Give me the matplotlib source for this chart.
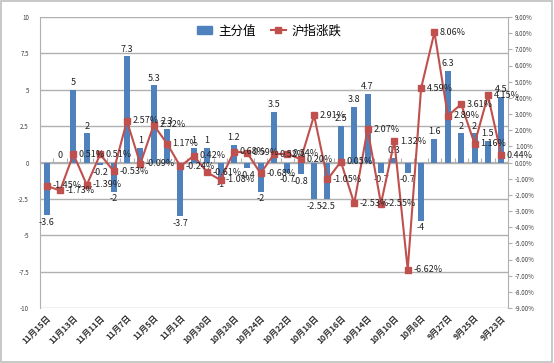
import numpy as np
import matplotlib
matplotlib.use("Agg")
import matplotlib.pyplot as plt
from matplotlib.lines import Line2D
from matplotlib.patches import Patch, Rectangle

plt.rcParams['font.family'] = ['Noto Sans CJK SC', 'DejaVu Sans']

# -----------------------------
# Data (newest first, as in the chart)
# -----------------------------
dates = ['11月15日', '11月14日', '11月13日', '11月12日', '11月11日', '11月8日',
         '11月7日', '11月6日', '11月5日', '11月4日', '11月1日', '10月31日',
         '10月30日', '10月29日', '10月28日', '10月25日', '10月24日', '10月23日',
         '10月22日', '10月21日', '10月18日', '10月17日', '10月16日', '10月15日',
         '10月14日', '10月11日', '10月10日', '10月9日', '10月8日', '9月30日',
         '9月27日', '9月26日', '9月25日', '9月24日', '9月23日']

score = [-3.6, 0, 5, 2, -0.2, -2, 7.3, 1, 5.3, 2.3, -3.7, 1,
         1, -1, 1.2, -0.4, -2, 3.5, -0.7, -0.8, -2.5, -2.5, 2.5, 3.8,
         4.7, -0.7, 0.3, -0.7, -4, 1.6, 6.3, 2, 2, 1.5, 4.5]

index_chg = [-1.45, -1.73, 0.51, -1.39, 0.51, -0.53, 2.57, -0.09, 2.32, 1.17, -0.24, 0.42,
             -0.61, -1.08, 0.68, 0.59, -0.68, 0.52, 0.54, 0.20, 2.91, -1.05, 0.05, -2.53,
             2.07, -2.55, 1.32, -6.62, 4.59, 8.06, 2.89, 3.61, 1.16, 4.15, 0.44]

left_ticks = [-10, -7.5, -5, -2.5, 0, 2.5, 5, 7.5, 10]
right_ticks = list(range(-9, 10))

bar_color = '#4F81BD'
line_color = '#C0504D'
grid_color = '#b0b0b0'
text_color = '#404040'

x = np.arange(len(dates))

fig = plt.figure(figsize=(5.54, 3.63), dpi=100)
ax = fig.add_axes([40 / 554, 55 / 363, 468 / 554, 291 / 363])
ax2 = ax.twinx()

# -----------------------------
# Bars (left axis)
# -----------------------------
ax.bar(x, score, width=0.45, color=bar_color, zorder=2)
for xi, v in zip(x, score):
    if v >= 0:
        ax.annotate(f'{v:g}', (xi, v), xytext=(0, 2), textcoords='offset points',
                    ha='center', va='bottom', fontsize=6.5, color='#222222')
    else:
        ax.annotate(f'{v:g}', (xi, v), xytext=(0, -2), textcoords='offset points',
                    ha='center', va='top', fontsize=6.5, color='#222222')

ax.set_xlim(-0.5, len(dates) - 0.5)
ax.set_ylim(-10, 10)
ax.set_yticks(left_ticks)
ax.set_yticklabels([f'{t:g}' for t in left_ticks])
ax.tick_params(axis='y', length=0, labelsize=4.5, labelcolor=text_color, pad=8)
ax.yaxis.grid(True, color=grid_color, linewidth=1)
ax.set_axisbelow(True)

ax.set_xticks(x[::2])
ax.set_xticklabels(dates[::2], rotation=45, ha='right', rotation_mode='anchor',
                   fontsize=6, color='#333333', fontweight='bold')
ax.tick_params(axis='x', length=0, pad=4)

for s in ['top', 'right', 'bottom']:
    ax.spines[s].set_visible(False)
ax.spines['left'].set_color(grid_color)

# category axis along zero with boundary tick marks
sec = ax.secondary_xaxis(0.5)
bounds = np.arange(-0.5, len(dates), 1)
sec.set_xticks(bounds, labels=[''] * len(bounds))
sec.tick_params(axis='x', direction='out', length=3, color=grid_color,
                labelbottom=False, labeltop=False)
for s in sec.spines.values():
    s.set_color(grid_color)

# -----------------------------
# Line (right axis)
# -----------------------------
ax2.plot(x, index_chg, color=line_color, linewidth=1.5, marker='s',
         markersize=4.5, zorder=3)
for xi, v in zip(x, index_chg):
    ax2.annotate(f'{v:.2f}%', (xi, v), xytext=(4, 0), textcoords='offset points',
                 ha='left', va='center', fontsize=6.5, color='#222222')

ax2.set_ylim(-9, 9)
ax2.set_yticks(right_ticks)
ax2.set_yticklabels([f'{t:.2f}%' for t in right_ticks])
ax2.tick_params(axis='y', direction='out', length=3, color=grid_color,
                labelsize=4.5, labelcolor=text_color, pad=2)
for s in ['top', 'left', 'bottom']:
    ax2.spines[s].set_visible(False)
ax2.spines['right'].set_color(grid_color)

handles = [Patch(color=bar_color, label='主分值'),
           Line2D([0], [0], color=line_color, linewidth=1.5, marker='s',
                  markersize=4.5, label='沪指涨跌')]
ax2.legend(handles=handles, loc='center', bbox_to_anchor=(0.49, 0.952), ncol=2,
           frameon=False, fontsize=9, handlelength=1.2, handletextpad=0.5,
           columnspacing=1.2)

# chart border
fig.patches.append(Rectangle((0.002, 0.003), 0.995, 0.993, transform=fig.transFigure,
                             fill=False, edgecolor='#bfbfbf', linewidth=1.2))

fig.savefig('out.png', dpi=100)
